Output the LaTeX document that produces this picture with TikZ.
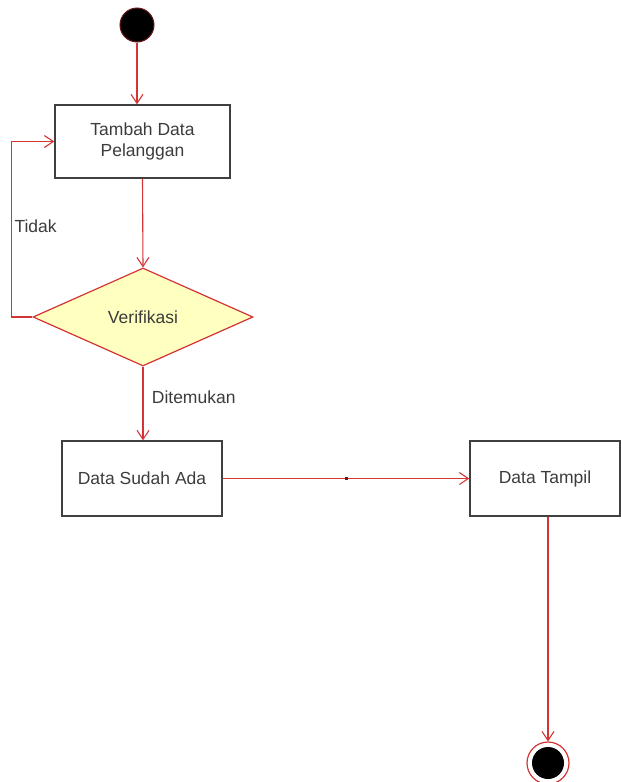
\documentclass[tikz,border=0pt]{standalone}
\usepackage{fontspec}
\setmainfont{Liberation Sans}
\usetikzlibrary{positioning,arrows,arrows.meta,shapes}
\definecolor{flowred}{RGB}{212,52,52}
\definecolor{decisionyellow}{RGB}{255,255,192}
\definecolor{textgray}{RGB}{60,60,60}

\begin{document}
\begin{tikzpicture}[x=1pt,y=-1pt,
    actbox/.style={draw=black!75, line width=1.3pt, minimum width=175pt, minimum height=73pt,
        align=center, text=textgray, font=\fontsize{17.5}{21}\selectfont},
    decision/.style={diamond, draw=flowred, fill=decisionyellow, line width=1.2pt, inner sep=0pt,
        minimum width=220pt, minimum height=98pt, text=textgray, font=\fontsize{17.5}{21}\selectfont},
    flow/.style={draw=flowred, line width=1.1pt, -{Straight Barb[length=9pt,width=12pt]}},
    flowlabel/.style={text=textgray, font=\fontsize{17.5}{21}\selectfont}]
            \useasboundingbox (0,0) rectangle (621,782);
            % start and end states
            \node (start) [circle, fill=black, draw=flowred!50!black, line width=1pt, minimum size=34pt] at (137,25) {};
            \node (end) [circle, draw=flowred, line width=1.2pt, minimum size=42pt] at (548,763) {};
            \fill[black] (end.center) circle (16pt);
            % activities
            \node (tambah) [actbox] at (142.5,141.5) {Tambah Data\\Pelanggan};
            \node (verif) [decision] at (143,317) {Verifikasi};
            \node (sudah) [actbox, minimum width=160pt, minimum height=75pt] at (142,478.5) {Data Sudah Ada};
            \node (tampil) [actbox, minimum width=150pt, minimum height=75pt] at (545,478.5) {Data Tampil};
            % connectors
            \draw[flow] (start) -- (start |- tambah.north);
            \draw[flow] (tambah.south) -- (verif.north);
            \draw[flow] (verif.west) -- ++(-21,0) |- (tambah.west);
            \node (tidak) [flowlabel, anchor=west] at (11,226) {Tidak};
            \draw[flow] (verif.south) -- (verif.south |- sudah.north)
                node (ditemukan) [flowlabel, pos=0.42, anchor=west, xshift=5pt] {Ditemukan};
            \draw[flow] (sudah.east) -- (tampil.west)
                node (mid) [pos=0.5, fill=flowred!50!black, inner sep=0pt, minimum size=3pt] {};
            \draw[flow] (end |- tampil.south) -- (end.north);
        \end{tikzpicture}
\end{document}
